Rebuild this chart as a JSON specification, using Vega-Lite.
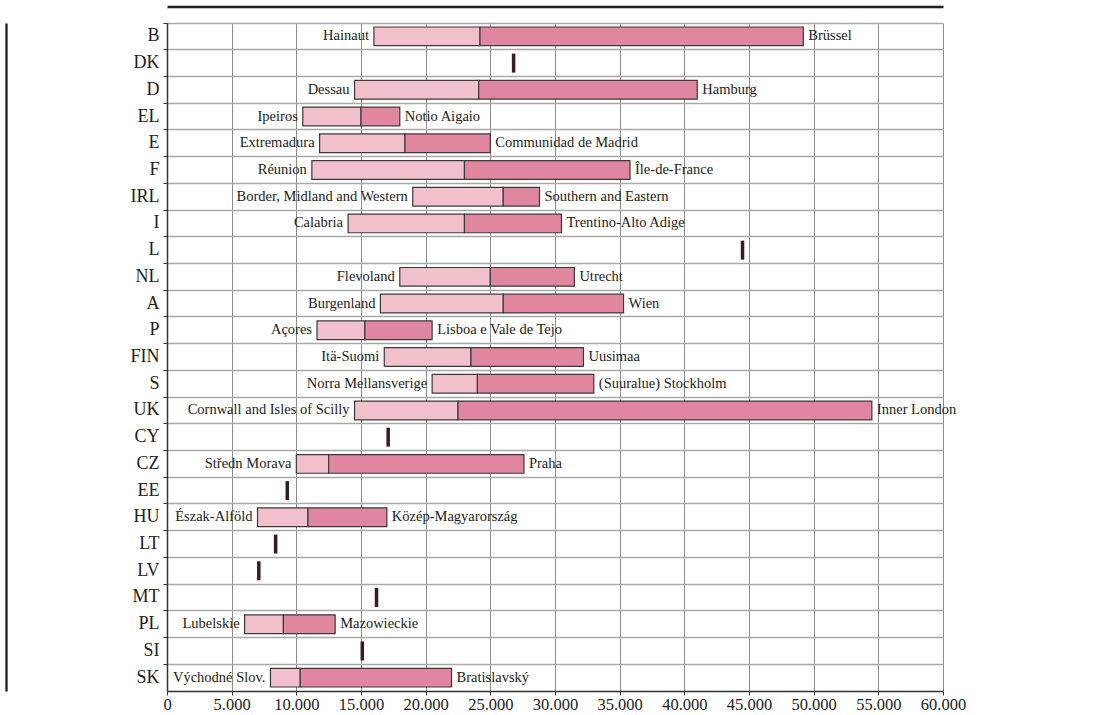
{
  "$schema": "https://vega.github.io/schema/vega-lite/v6.json",
  "width": 776,
  "height": 668,
  "padding": {"left": 6, "top": 6, "right": 5, "bottom": 0},
  "background": "white",
  "config": {"view": {"stroke": null}, "font": "Liberation Serif", "text": {"font": "Liberation Serif"}, "axis": {"labelFont": "Liberation Serif"}},
  "data": {
    "values": [
      {"country": "B", "min": 16000, "avg": 24200, "max": 49200, "minRegion": "Hainaut", "maxRegion": "Brüssel"},
      {"country": "DK", "val": 26800},
      {"country": "D", "min": 14500, "avg": 24100, "max": 41000, "minRegion": "Dessau", "maxRegion": "Hamburg"},
      {"country": "EL", "min": 10500, "avg": 15000, "max": 18000, "minRegion": "Ipeiros", "maxRegion": "Notio Aigaio"},
      {"country": "E", "min": 11800, "avg": 18400, "max": 25000, "minRegion": "Extremadura", "maxRegion": "Communidad de Madrid"},
      {"country": "F", "min": 11200, "avg": 23000, "max": 35800, "minRegion": "Réunion", "maxRegion": "Île-de-France"},
      {"country": "IRL", "min": 19000, "avg": 26000, "max": 28800, "minRegion": "Border, Midland and Western", "maxRegion": "Southern and Eastern"},
      {"country": "I", "min": 14000, "avg": 23000, "max": 30500, "minRegion": "Calabria", "maxRegion": "Trentino-Alto Adige"},
      {"country": "L", "val": 44500},
      {"country": "NL", "min": 18000, "avg": 25000, "max": 31500, "minRegion": "Flevoland", "maxRegion": "Utrecht"},
      {"country": "A", "min": 16500, "avg": 26000, "max": 35300, "minRegion": "Burgenland", "maxRegion": "Wien"},
      {"country": "P", "min": 11600, "avg": 15300, "max": 20500, "minRegion": "Açores", "maxRegion": "Lisboa e Vale de Tejo"},
      {"country": "FIN", "min": 16800, "avg": 23500, "max": 32200, "minRegion": "Itä-Suomi", "maxRegion": "Uusimaa"},
      {"country": "S", "min": 20500, "avg": 24000, "max": 33000, "minRegion": "Norra Mellansverige", "maxRegion": "(Suuralue) Stockholm"},
      {"country": "UK", "min": 14500, "avg": 22500, "max": 54500, "minRegion": "Cornwall and Isles of Scilly", "maxRegion": "Inner London"},
      {"country": "CY", "val": 17100},
      {"country": "CZ", "min": 10000, "avg": 12500, "max": 27600, "minRegion": "Středn  Morava", "maxRegion": "Praha"},
      {"country": "EE", "val": 9300},
      {"country": "HU", "min": 7000, "avg": 10900, "max": 17000, "minRegion": "Észak-Alföld", "maxRegion": "Közép-Magyarország"},
      {"country": "LT", "val": 8400},
      {"country": "LV", "val": 7100},
      {"country": "MT", "val": 16200},
      {"country": "PL", "min": 6000, "avg": 9000, "max": 13000, "minRegion": "Lubelskie", "maxRegion": "Mazowieckie"},
      {"country": "SI", "val": 15100},
      {"country": "SK", "min": 8000, "avg": 10300, "max": 22000, "minRegion": "Východné Slov.", "maxRegion": "Bratislavský"}
    ]
  },
  "resolve": {"axis": {"x": "independent", "y": "independent"}},
  "layer": [
    {
      "layer": [
        {
          "transform": [{"filter": "isValid(datum.min)"}],
          "mark": {"type": "bar", "height": {"band": 0.7}, "fill": "#f1c0cb", "stroke": "#3a3a3a", "strokeWidth": 1.2},
          "encoding": {
            "x": {
              "field": "min", "type": "quantitative",
              "scale": {"domain": [0, 60000], "nice": false},
              "axis": {
                "title": null,
                "values": [0, 5000, 10000, 15000, 20000, 25000, 30000, 35000, 40000, 45000, 50000, 55000, 60000],
                "labelExpr": "replace(format(datum.value, ','), ',', '.')",
                "grid": true, "gridColor": "#8c8c8c", "gridWidth": 1,
                "tickSize": 4, "tickColor": "#333333",
                "domainColor": "#333333", "domainWidth": 1.5,
                "labelFontSize": 16.5, "labelColor": "#222222", "labelPadding": 1,
                "labelFont": "Liberation Serif", "labelFlush": false
              }
            },
            "x2": {"field": "avg"},
            "y": {
              "field": "country", "type": "nominal",
              "scale": {
                "type": "band", "paddingInner": 0, "paddingOuter": 0,
                "domain": ["B", "DK", "D", "EL", "E", "F", "IRL", "I", "L", "NL", "A", "P", "FIN", "S", "UK", "CY", "CZ", "EE", "HU", "LT", "LV", "MT", "PL", "SI", "SK"]
              },
              "axis": {
                "title": null, "bandPosition": 0,
                "tickSize": 4, "tickColor": "#333333",
                "domainColor": "#333333", "domainWidth": 1.5,
                "labelFontSize": 18, "labelColor": "#222222", "labelPadding": 4,
                "labelFont": "Liberation Serif",
                "grid": true, "gridColor": "#a8a8a8", "gridWidth": 1.5
              }
            }
          }
        },
        {
          "transform": [{"filter": "isValid(datum.min)"}],
          "mark": {"type": "bar", "height": {"band": 0.7}, "fill": "#e0869f", "stroke": "#3a3a3a", "strokeWidth": 1.2},
          "encoding": {
            "x": {"field": "avg", "type": "quantitative"},
            "x2": {"field": "max"},
            "y": {"field": "country", "type": "nominal"}
          }
        },
        {
          "transform": [{"filter": "isValid(datum.min)"}],
          "mark": {"type": "text", "align": "right", "baseline": "middle", "dx": -5, "fontSize": 14.5, "color": "#222222", "font": "Liberation Serif"},
          "encoding": {
            "x": {"field": "min", "type": "quantitative"},
            "y": {"field": "country", "type": "nominal"},
            "text": {"field": "minRegion"}
          }
        },
        {
          "transform": [{"filter": "isValid(datum.min)"}],
          "mark": {"type": "text", "align": "left", "baseline": "middle", "dx": 5, "fontSize": 14.5, "color": "#222222", "font": "Liberation Serif"},
          "encoding": {
            "x": {"field": "max", "type": "quantitative"},
            "y": {"field": "country", "type": "nominal"},
            "text": {"field": "maxRegion"}
          }
        }
      ]
    },
    {
      "transform": [{"filter": "isValid(datum.val)"}],
      "mark": {"type": "tick", "orient": "vertical", "size": 19, "thickness": 3.5, "color": "#3b1a26", "opacity": 1},
      "encoding": {
        "x": {
          "field": "val", "type": "quantitative",
          "axis": {"orient": "top", "offset": 16.5, "title": null, "ticks": false, "labels": false, "grid": false, "domainColor": "#231f20", "domainWidth": 2.3}
        },
        "y": {
          "field": "country", "type": "nominal",
          "axis": {"orient": "left", "offset": 161, "title": null, "ticks": false, "labels": false, "grid": false, "domainColor": "#231f20", "domainWidth": 2.3}
        }
      }
    }
  ]
}
